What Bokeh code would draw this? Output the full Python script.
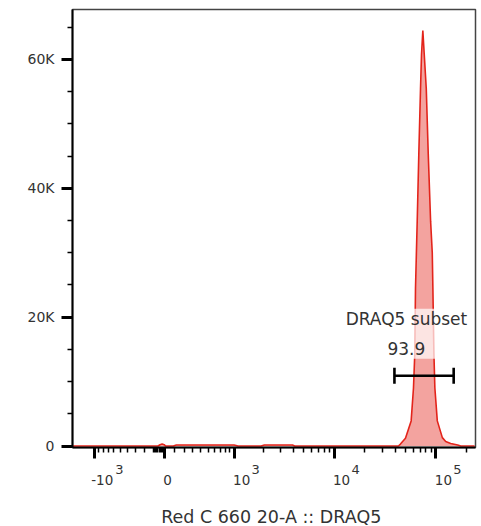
import numpy as np
from bokeh.plotting import figure
from bokeh.layouts import column
from bokeh.models import Range1d, FixedTicker, Label, CustomJSTickFormatter
from bokeh.core.properties import value
from bokeh.embed import file_html
from bokeh.resources import INLINE

# ---------------- data ----------------
# histogram (channel value on the biexponential axis, event count)
hist_x = [-1800, -60, -40, -20, 0, 15, 90, 120, 1000, 1100, 1900, 2050, 3900, 4100,
          42900, 44900, 50300, 57200, 60300, 62100, 63100, 65600, 68000, 70700, 72300,
          74500, 76900, 80500, 84200, 88800, 92200, 93500, 95700, 97800, 103300,
          115800, 124900, 139800, 163800, 175600, 240000]
hist_count = [0, 0, 200, 300, 200, 0, 0, 150, 150, 0, 0, 150, 150, 0,
              0, 300, 1200, 3900, 9000, 14300, 24500, 34900, 45300, 55500, 60800,
              64500, 60800, 55500, 45300, 34900, 30000, 24500, 14300, 9000, 3900,
              1300, 700, 400, 150, 0, 0]

# gate
gate_name = "DRAQ5 subset"
gate_pct = "93.9"
gate_lo, gate_hi = 39200, 149600
gate_y = 10900
gate_label_x = 51400

# axes
x_min, x_max = -1680, 245000
y_min, y_max = -230, 67750
x_major = [-1000, 0, 1000, 10000, 100000]
x_major_base = ["-10", "0", "10", "10", "10"]
x_major_exp = ["3", "", "3", "4", "5"]
x_minor = ([-v for v in range(100, 1000, 100)] + [-v for v in range(10, 100, 10)] +
           list(range(100, 1000, 100)) + list(range(2000, 10000, 1000)) +
           list(range(20000, 100000, 10000)) + [200000])
y_major = [0, 20000, 40000, 60000]
y_major_labels = ["0", "20K", "40K", "60K"]
y_minor = list(range(5000, 70000, 5000))

x_title = "Red C 660  20-A :: DRAQ5"

# ---------------- biexponential-like display transform ----------------
BIEX_W = 430.0
BIEX_SCALE = 44.0


def biex(v):
    return BIEX_SCALE * np.arcsinh(np.asarray(v, dtype=float) / BIEX_W)


FONT = "DejaVu Sans"
TXT = "#333333"
RED = "#e3241b"

W, H = 481, 526
MAIN_H = 461

xr = Range1d(float(biex(x_min)), float(biex(x_max)))
p = figure(width=W, height=MAIN_H, output_backend="svg", toolbar_location=None,
           x_range=xr, y_range=Range1d(y_min, y_max),
           min_border_left=72, min_border_right=6, min_border_top=9, min_border_bottom=14)
p.grid.visible = False
p.outline_line_color = "#444444"
p.outline_line_width = 1.5

hx = biex(hist_x)
p.varea(x=hx, y1=np.zeros(len(hx)), y2=hist_count, fill_color=RED, fill_alpha=0.42)
p.line(x=hx, y=hist_count, line_color=RED, line_width=1.6)

# gate bar
gx = biex([gate_lo, gate_hi])
p.line(x=gx, y=[gate_y, gate_y], line_color="black", line_width=2.6)
p.scatter(x=gx, y=[gate_y, gate_y], marker="dash", size=16, angle=np.pi / 2,
          line_color="black", line_width=2.6)
p.add_layout(Label(x=float(biex(gate_label_x)), y=gate_y, text=gate_name + "\n" + gate_pct,
                   text_align="center", text_baseline="middle", y_offset=42,
                   text_font=FONT, text_font_size="17px", text_color=TXT,
                   text_line_height=1.5,
                   background_fill_color="white", background_fill_alpha=0.7))

# y axis
ya = p.yaxis[0]
ya.ticker = FixedTicker(ticks=y_major, minor_ticks=y_minor)
ya.major_label_overrides = {v: s for v, s in zip(y_major, y_major_labels)}
ya.major_label_text_font = FONT
ya.major_label_text_font_size = "14px"
ya.major_label_text_color = TXT
ya.major_label_standoff = 7
ya.axis_line_color = "black"
ya.axis_line_width = 2
ya.major_tick_out = 11
ya.major_tick_in = 0
ya.major_tick_line_width = 3
ya.minor_tick_out = 5
ya.minor_tick_in = 0
ya.minor_tick_line_width = 1.5

# x axis: ticks only (labels drawn in the strip below)
xa = p.xaxis[0]
xa.ticker = FixedTicker(ticks=list(biex(x_major)), minor_ticks=list(biex(x_minor)))
xa.formatter = CustomJSTickFormatter(code="return ''")
xa.major_label_text_font_size = "1px"
xa.major_label_standoff = 0
xa.axis_line_color = "black"
xa.axis_line_width = 2
xa.major_tick_out = 11
xa.major_tick_in = 0
xa.major_tick_line_width = 3
xa.minor_tick_out = 5
xa.minor_tick_in = 0
xa.minor_tick_line_width = 1.5

# ---------------- strip with x tick labels and axis title ----------------
STRIP_H = H - MAIN_H
q = figure(width=W, height=STRIP_H, output_backend="svg", toolbar_location=None,
           x_range=xr, y_range=Range1d(0, STRIP_H),
           x_axis_location=None, y_axis_location=None,
           min_border_left=72, min_border_right=6, min_border_top=0, min_border_bottom=0)
q.grid.visible = False
q.outline_line_color = None

bx = biex(x_major)
base_off = [-3 if s.startswith("-") else -1 for s in x_major_base]
q.text(x=bx, y=[STRIP_H - 18] * len(bx), text=x_major_base, x_offset=base_off,
       text_align="left", text_baseline="middle", text_font=value(FONT),
       text_font_size="13.5px", text_color=TXT)
ex_x = [float(b) for b, e in zip(bx, x_major_exp) if e]
ex_t = [e for e in x_major_exp if e]
ex_off = [21 if s.startswith("-") else 17.5 for s, e in zip(x_major_base, x_major_exp) if e]
q.text(x=ex_x, y=[STRIP_H - 8] * len(ex_x), text=ex_t, x_offset=ex_off,
       text_align="left", text_baseline="middle", text_font=value(FONT),
       text_font_size="13px", text_color=TXT)
q.text(x=[(xr.start + xr.end) / 2], y=[10], text=[x_title], text_align="center",
       text_baseline="middle", text_font=value(FONT), text_font_size="17.5px", text_color=TXT)

layout = column(p, q, spacing=0)
open("out.html", "w").write(file_html(layout, INLINE))
